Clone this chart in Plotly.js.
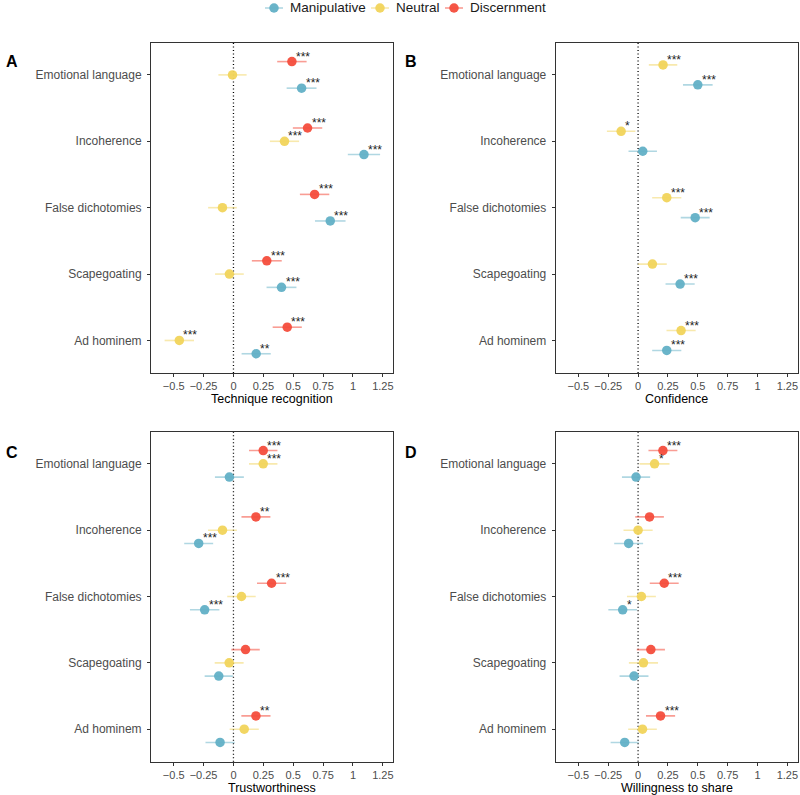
<!DOCTYPE html>
<html><head><meta charset="utf-8">
<script src="https://cdn.plot.ly/plotly-3.0.1.min.js"></script>
<style>body{margin:0;background:#fff}#chart{width:800px;height:795px}</style>
</head><body><div id="chart"></div>
<script>
// ---------- data ----------
const categories = ["Emotional language", "Incoherence", "False dichotomies", "Scapegoating", "Ad hominem"];
const groupNames = ["Manipulative", "Neutral", "Discernment"];
const xTickVals = [-0.5, -0.25, 0, 0.25, 0.5, 0.75, 1, 1.25];
const xTickText = ["\u22120.5", "\u22120.25", "0", "0.25", "0.5", "0.75", "1", "1.25"];

// Panel A: Technique recognition
const A_manip_est = [0.570, 1.092, 0.810, 0.402, 0.190];
const A_manip_ci  = [0.125, 0.135, 0.128, 0.125, 0.122];
const A_manip_sig = ["***", "***", "***", "***", "**"];
const A_neut_est  = [-0.008, 0.427, -0.092, -0.034, -0.453];
const A_neut_ci   = [0.118, 0.122, 0.120, 0.120, 0.123];
const A_neut_sig  = ["", "***", "", "", "***"];
const A_disc_est  = [0.489, 0.620, 0.679, 0.279, 0.450];
const A_disc_ci   = [0.123, 0.123, 0.123, 0.125, 0.122];
const A_disc_sig  = ["***", "***", "***", "***", "***"];

// Panel B: Confidence
const B_manip_est = [0.500, 0.039, 0.478, 0.352, 0.240];
const B_manip_ci  = [0.124, 0.119, 0.121, 0.122, 0.122];
const B_manip_sig = ["***", "", "***", "***", "***"];
const B_neut_est  = [0.209, -0.142, 0.240, 0.120, 0.360];
const B_neut_ci   = [0.119, 0.119, 0.122, 0.120, 0.122];
const B_neut_sig  = ["***", "*", "***", "", "***"];

// Panel C: Trustworthiness
const C_manip_est = [-0.034, -0.291, -0.241, -0.123, -0.112];
const C_manip_ci  = [0.121, 0.121, 0.123, 0.118, 0.122];
const C_manip_sig = ["", "***", "***", "", ""];
const C_neut_est  = [0.249, -0.092, 0.067, -0.036, 0.090];
const C_neut_ci   = [0.119, 0.121, 0.119, 0.121, 0.122];
const C_neut_sig  = ["***", "", "", "", ""];
const C_disc_est  = [0.249, 0.188, 0.319, 0.101, 0.188];
const C_disc_ci   = [0.119, 0.121, 0.122, 0.119, 0.122];
const C_disc_sig  = ["***", "**", "***", "", "**"];

// Panel D: Willingness to share
const D_manip_est = [-0.017, -0.079, -0.129, -0.034, -0.112];
const D_manip_ci  = [0.118, 0.121, 0.120, 0.121, 0.118];
const D_manip_sig = ["", "", "*", "", ""];
const D_neut_est  = [0.138, 0.000, 0.028, 0.045, 0.037];
const D_neut_ci   = [0.125, 0.122, 0.121, 0.122, 0.120];
const D_neut_sig  = ["*", "", "", "", ""];
const D_disc_est  = [0.208, 0.096, 0.219, 0.107, 0.188];
const D_disc_ci   = [0.121, 0.120, 0.121, 0.118, 0.122];
const D_disc_sig  = ["***", "", "***", "", "***"];

const panelLetters = ["A", "B", "C", "D"];
const panelTitles = ["Technique recognition", "Confidence", "Trustworthiness", "Willingness to share"];

// ---------- styling ----------
const FONT = "Liberation Sans, Arial, Helvetica, sans-serif";
const colors = {Manipulative: "#62B0C6", Neutral: "#F1D45B", Discernment: "#F44D3C"};
const barColors = {Manipulative: "rgba(98,176,198,0.5)", Neutral: "rgba(241,212,91,0.5)", Discernment: "rgba(244,77,60,0.55)"};

const panels = [
  {ax: "", groups: {Discernment: [A_disc_est, A_disc_ci, A_disc_sig], Neutral: [A_neut_est, A_neut_ci, A_neut_sig], Manipulative: [A_manip_est, A_manip_ci, A_manip_sig]}},
  {ax: "2", groups: {Neutral: [B_neut_est, B_neut_ci, B_neut_sig], Manipulative: [B_manip_est, B_manip_ci, B_manip_sig]}},
  {ax: "3", groups: {Discernment: [C_disc_est, C_disc_ci, C_disc_sig], Neutral: [C_neut_est, C_neut_ci, C_neut_sig], Manipulative: [C_manip_est, C_manip_ci, C_manip_sig]}},
  {ax: "4", groups: {Discernment: [D_disc_est, D_disc_ci, D_disc_sig], Neutral: [D_neut_est, D_neut_ci, D_neut_sig], Manipulative: [D_manip_est, D_manip_ci, D_manip_sig]}},
];

const W = 800, H = 795;
const dodgeWidth = 0.6;
const traces = [];
const annotations = [];
const shapes = [];

panels.forEach((p, pi) => {
  const order = ["Discernment", "Neutral", "Manipulative"].filter(g => p.groups[g]);
  const n = order.length;
  order.forEach((g, k) => {
    const [est, ci, sig] = p.groups[g];
    const off = (k - (n - 1) / 2) * (dodgeWidth / n);
    const ys = categories.map((c, i) => i + off);
    traces.push({
      type: "scatter", mode: "markers", showlegend: false, hoverinfo: "skip",
      x: est, y: ys, xaxis: "x" + p.ax, yaxis: "y" + p.ax,
      marker: {color: colors[g], size: 9.5, opacity: 0.95, line: {width: 0}},
      error_x: {type: "data", array: ci, visible: true, color: barColors[g], thickness: 1.6, width: 0}
    });
    est.forEach((v, i) => {
      if (sig[i]) {
        annotations.push({
          x: v, y: ys[i], xref: "x" + p.ax, yref: "y" + p.ax, text: sig[i], showarrow: false,
          xanchor: "left", yanchor: "middle", xshift: 2, yshift: 5,
          font: {family: FONT, size: 12, color: "#222"}
        });
      }
    });
  });
  shapes.push({type: "line", xref: "x" + p.ax, yref: "y" + p.ax + " domain", x0: 0, x1: 0, y0: 0, y1: 1,
    line: {color: "#000", width: 1.3, dash: "1px,2.5px"}, layer: "below"});
});

// manual legend (compact, ggplot-style key)
const legendMarkX = [274, 380, 454];
const legendY = 8;
groupNames.forEach((g, i) => {
  const cx = legendMarkX[i] / W, cy = 1 - legendY / H;
  shapes.push({type: "line", xref: "paper", yref: "paper", x0: (legendMarkX[i] - 9) / W, x1: (legendMarkX[i] + 9) / W,
    y0: cy, y1: cy, line: {color: barColors[g], width: 1.6}});
  shapes.push({type: "circle", xref: "paper", yref: "paper", xsizemode: "pixel", ysizemode: "pixel",
    xanchor: cx, yanchor: cy, x0: -4.75, x1: 4.75, y0: -4.75, y1: 4.75,
    fillcolor: colors[g], line: {width: 0}, opacity: 0.95});
  annotations.push({text: g, xref: "paper", yref: "paper", x: (legendMarkX[i] + 14) / W, y: cy,
    xanchor: "left", yanchor: "middle", showarrow: false, font: {family: FONT, size: 13.5, color: "#1a1a1a"}});
});

const xDomL = [0.18875, 0.49125], xDomR = [0.6946, 0.9969];
const yDomT = [0.5308, 0.9459], yDomB = [0.0419, 0.4566];
const doms = [[xDomL, yDomT], [xDomR, yDomT], [xDomL, yDomB], [xDomR, yDomB]];
const titleY = [398.5, 398.5, 787.5, 787.5];

const layout = {
  width: W, height: H, paper_bgcolor: "#fff", plot_bgcolor: "#fff",
  margin: {l: 0, r: 0, t: 0, b: 0},
  font: {family: FONT, size: 12, color: "#4d4d4d"},
  showlegend: false,
  annotations: annotations, shapes: shapes
};

panels.forEach((p, pi) => {
  const [xd, yd] = doms[pi];
  layout["xaxis" + p.ax] = {
    domain: xd, anchor: "y" + p.ax, range: [-0.69, 1.335], tickvals: xTickVals, ticktext: xTickText,
    showgrid: false, zeroline: false, showline: true, mirror: true, linecolor: "#333", linewidth: 1,
    ticks: "outside", ticklen: 3, tickcolor: "#333", tickfont: {family: FONT, size: 11, color: "#4d4d4d"}
  };
  layout["yaxis" + p.ax] = {
    domain: yd, anchor: "x" + p.ax, range: [4.49, -0.48], tickvals: categories.map((c, i) => i), ticktext: categories,
    showgrid: false, zeroline: false, showline: true, mirror: true, linecolor: "#333", linewidth: 1,
    ticks: "outside", ticklen: 3, tickcolor: "#333", ticklabelstandoff: 3,
    tickfont: {family: FONT, size: 12, color: "#4d4d4d"}
  };
  annotations.push({
    text: panelTitles[pi], xref: "paper", yref: "paper", showarrow: false,
    x: (xd[0] + xd[1]) / 2, y: 1 - titleY[pi] / H, xanchor: "center", yanchor: "middle",
    font: {family: FONT, size: 12.5, color: "#000"}
  });
  annotations.push({
    text: "<b>" + panelLetters[pi] + "</b>", xref: "paper", yref: "paper", showarrow: false,
    x: (pi % 2 === 0) ? 4 / W : 403 / W, y: pi < 2 ? 1 - 62 / H : 1 - 452 / H,
    xanchor: "left", yanchor: "middle", font: {family: FONT, size: 16, color: "#000"}
  });
});

Plotly.newPlot("chart", traces, layout, {displayModeBar: false, staticPlot: true});
</script></body></html>
